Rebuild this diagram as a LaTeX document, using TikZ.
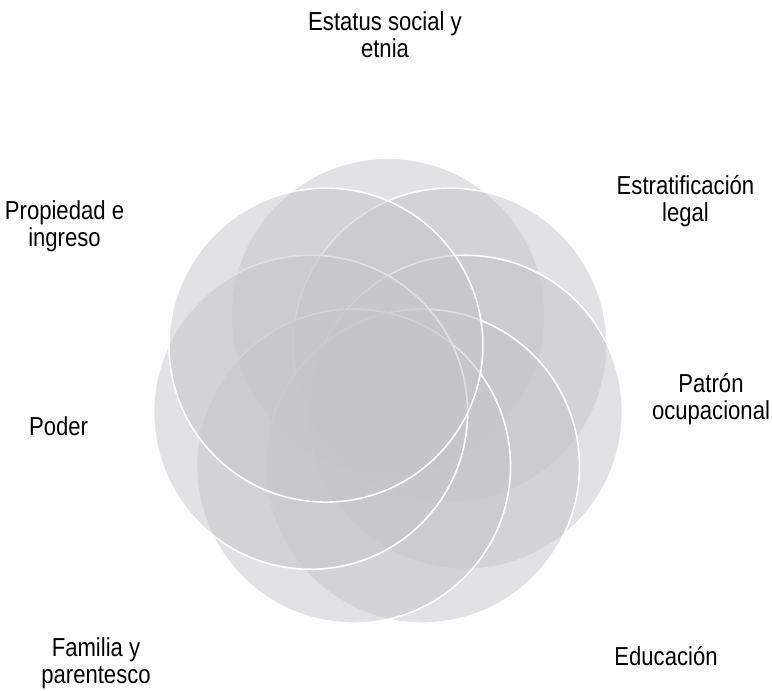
\documentclass[tikz,border=0pt]{standalone}
\usepackage{fontspec}
\setmainfont{Liberation Sans}[FakeStretch=0.85]
\definecolor{petalgray}{RGB}{196,197,199}
\definecolor{labelink}{RGB}{0,0,0}
\begin{document}
\begin{tikzpicture}[x=1pt,y=-1pt,
  petal/.style={circle, minimum size=314pt, inner sep=0pt, fill=petalgray, fill opacity=0.5, draw=white, draw opacity=1, line width=1.6pt},
  lbl/.style={align=center, inner sep=0pt, text=labelink, font=\fontsize{26}{27}\selectfont}]
\useasboundingbox (0,0) rectangle (772,691);
\foreach \k/\nm in {0/p1,1/p2,2/p3,3/p4,4/p5,5/p6,6/p7}{
  \pgfmathsetmacro{\ang}{90-\k*360/7}
  \node[petal] (\nm) at ({388+79.4*cos(\ang)},{394.6-79.4*sin(\ang)}) {};
}
\node[lbl] (l1) at (385,35) {Estatus social y\\etnia};
\node[lbl] (l2) at (685.5,200.8) {Estratificación\\legal};
\node[lbl] (l3) at (711,399) {Patrón\\ocupacional};
\node[lbl] (l4) at (666,656) {Educación};
\node[lbl] (l5) at (96,663.5) {Familia y\\parentesco};
\node[lbl] (l6) at (58.5,426) {Poder};
\node[lbl] (l7) at (64.5,226) {Propiedad e\\ingreso};
\end{tikzpicture}
\end{document}
